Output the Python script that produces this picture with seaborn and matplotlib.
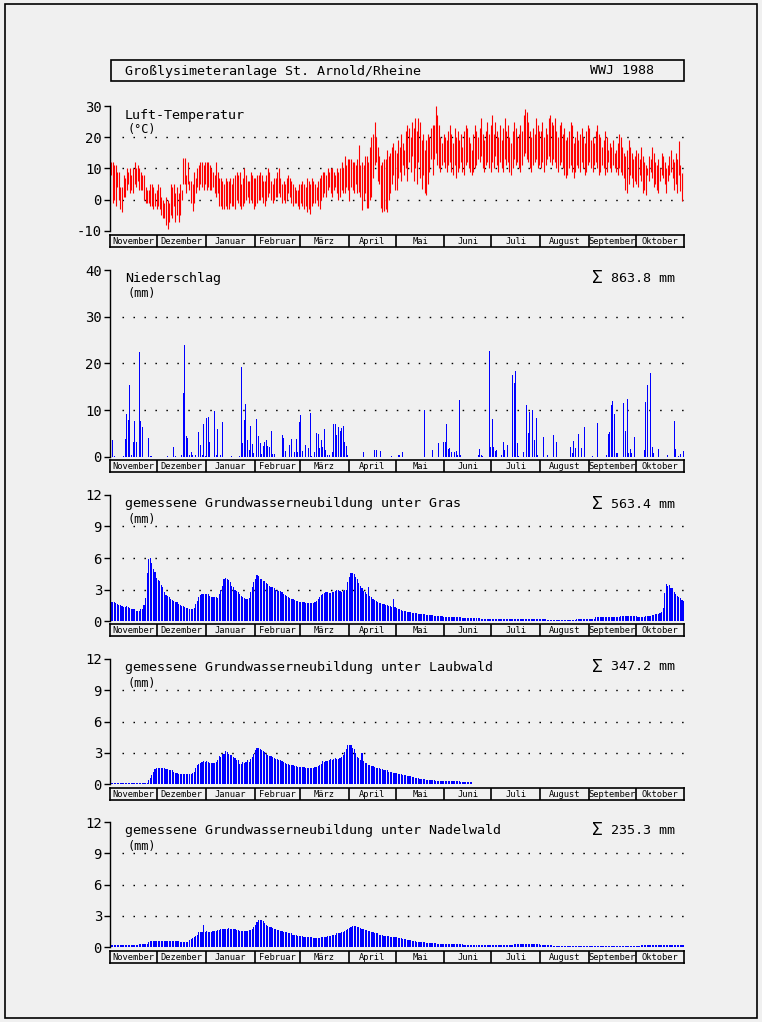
import numpy as np
import pandas as pd
import seaborn as sns
import matplotlib
matplotlib.use("Agg")
import matplotlib.pyplot as plt
from matplotlib.patches import Rectangle

# ---------------- data (hydrological year Nov 1987 - Oct 1988, daily) ----------------
months = ["November", "Dezember", "Januar", "Februar", "März", "April",
          "Mai", "Juni", "Juli", "August", "September", "Oktober"]
month_days = [30, 31, 31, 29, 31, 30, 31, 30, 31, 31, 30, 31]

# daily max / min air temperature (°C)
t_max = [
    12, 12, 11, 11, 9, 9, 4, 4, 8, 7, 10, 9, 10, 8, 10, 12, 10, 11, 10, 9, 8, 8, 4, 3, 3, 5, 5, 4, 2, 3,  # Nov
    5, 4, 1, 0, -1, 1, 0, -1, 5, 4, 5, 2, 4, 2, 5, 3, 13.5, 13.5, 8, 12, 6, 6, 5, 9, 7, 10, 11, 12, 12, 11, 12,  # Dez
    12, 12, 11, 10, 9, 8, 12, 9, 7, 7, 6, 5, 7, 6, 6, 7, 5, 7, 8, 9, 8, 9, 5, 7, 10, 8, 6, 6, 9, 8, 7,  # Jan
    7, 8, 8, 9, 8, 6, 6, 8, 10, 9, 6, 5, 7, 7, 9, 10, 7, 5, 6, 5, 7, 8, 7, 6, 5, 4, 3, 3, 5,  # Feb
    5, 6, 5, 4, 7, 6, 5, 7, 6, 5, 4, 6, 7, 8, 9, 9, 8, 10, 9, 10, 10, 9, 8, 10, 9, 10, 12, 10, 14, 11, 13,  # Mär
    13, 13, 12, 12, 11, 13, 17.5, 11, 12, 11, 14, 14, 12, 17, 20, 21, 25, 20, 17, 14, 11, 12, 13, 13, 16, 14, 15, 17, 18, 16,  # Apr
    15, 19, 17, 21, 18, 16, 22, 24, 23, 20, 25, 23, 26, 22, 26, 25, 19, 21, 16, 19, 21, 20, 23, 24, 24, 30, 27, 24, 20, 18, 21,  # Mai
    20, 19, 22, 24, 21, 18, 23, 20, 22, 19, 21, 17, 22, 24, 23, 20, 18, 16, 21, 24, 22, 20, 23, 26, 21, 19, 22, 25, 21, 24,  # Jun
    27, 21, 25, 22, 20, 24, 19, 23, 26, 22, 24, 20, 18, 22, 25, 23, 20, 21, 24, 22, 27, 29, 28, 25, 22, 20, 23, 21, 26, 24, 22,  # Jul
    22, 25, 20, 23, 21, 26, 27, 25, 24, 26, 22, 20, 24, 25, 21, 23, 19, 20, 22, 25, 24, 18, 20, 22, 19, 21, 23, 20, 18, 22, 24,  # Aug
    23, 19, 20, 18, 22, 24, 21, 20, 17, 19, 22, 20, 16, 18, 17, 19, 15, 16, 18, 21, 20, 17, 15, 14, 16, 19, 17, 15, 13, 14,  # Sep
    16, 15, 13, 17, 14, 12, 11, 10, 14, 13, 17, 15, 12, 11, 13, 10, 15, 14, 12, 10, 11, 14, 16, 13, 12, 15, 13, 18.7, 11, 8.6, 9.4,  # Okt
]
t_min = [
    8, -1, 0, -2, 4, 0, -3, -4, 1, 1, 3, 5, 2, 3, 2, 5, 4, 6, 3, 3, 3, 0, -1, -1, -1, -2, -2, -3, -2, -3,
    -2, -3, -5, -6, -6, -8, -9.5, -7, -5, -6, -2, -7, -5, -7, -5, 0, 5, 5, 2, 5, 3, -1, -3.5, -1, 2, 4, 3, 5, 4, 3, 5,
    3, 4, 3, 3, 4, 2, 1, 2, -2, -2, -3, -3, -2, -3, -3, -1, -2, -2, -3, 0, -1, -2, -3, -2, -1, 0, 1, -1, 0, -1, -3,
    -2, -1, 0, 0, 1, -1, -2, 0, 1, 2, 0, -1, 0, 1, 1, 2, 1, -1, 0, -1, 0, 2, 1, -1, -2, -1, -1, -2, -3,
    -1, -2, -3, -2, -4, -3, -4.5, -2, -1, -1, 0, -2, -3, 0, 1, 2, 1, 3, 4, 2, 1, 3, 4, 2, 0, 1, 3, 2, 2, 4, 3,
    -0.5, 4, 3, 2, 5, 2, 2.5, 1, -3.2, 0, 2, -2.5, -2.7, 0, 1, 7, 11, 12, 6, 5, -2.8, -4, -3.7, -3, -4, 0, 2, 5, 8, 3,
    3, 7, 9, 6, 11, 8, 10, 6, 12, 9, 14, 6, 10, 5, 12, 7, 3.5, 8, 2, 1.5, 5, 9, 13, 8, 13, 15, 11, 10, 9, 11, 12,
    10, 9, 11, 12, 9, 8, 11, 7, 9, 10, 12, 9, 8, 11, 12, 10, 9, 8, 9, 10, 11, 13, 12, 14, 10, 9, 11, 12, 10, 9,
    12, 10, 14, 11, 9, 12, 10, 9, 13, 11, 12, 9, 8, 10, 13, 11, 12, 10, 9, 11, 14, 15, 13, 12, 10, 9, 11, 12, 13, 10, 11,
    10, 12, 9, 11, 13, 14, 12, 11, 13, 12, 10, 9, 11, 12, 10, 8, 7, 8, 10, 11, 9, 7, 9, 11, 10, 9, 12, 10, 8, 9, 11,
    12, 10, 9, 11, 12, 10, 8, 9, 11, 10, 8, 9, 12, 10, 9, 11, 10, 9, 8, 10, 9, 8, 7, 3, 2, 5, 8, 7, 4, 6,
    5, 4, 8, 6, 2, 3, 1.5, 8, 6, 9, 7, 4, 5, 3, 2, 6, 8, 7, 5, 2, 6, 8, 9, 7, 3, 5, 2, 8, 2.8, -0.4, 3.3,
]

# precipitation: day index (0 = 1 Nov) and amount (mm) for days with rain
precip_day = [
    1, 2, 8, 9, 10, 11, 12, 13, 14, 15, 16, 18, 19, 20, 21, 24, 25, 26,
    36, 40, 41, 45, 46, 47, 48, 49, 50, 51, 52, 54, 56, 57, 58, 59, 60,
    61, 62, 63, 65, 66, 67, 68, 70, 71, 72, 77, 82, 83, 84, 85, 86, 87, 88, 89, 90, 91,
    93, 94, 95, 96, 97, 98, 99, 100, 101, 102, 103, 104, 109, 110, 111, 114, 115, 116, 117, 118, 119, 120,
    121, 122, 123, 124, 126, 127, 128, 130, 131, 132, 133, 134, 135, 136, 137, 138, 139,
    141, 142, 143, 144, 145, 146, 147, 148, 149, 150, 151,
    160, 161, 168, 169, 172, 179,
    183, 184, 186, 200, 205, 209, 211, 212,
    213, 214, 215, 216, 217, 219, 220, 221, 222, 223, 234, 235, 236, 237, 241, 242,
    243, 244, 245, 246, 248, 249, 250, 251, 253, 255, 256, 257, 258, 259, 260, 262, 263,
    265, 266, 267, 269, 270, 271, 272,
    276, 278, 282, 284, 293, 294, 295, 296, 298, 299, 300, 302,
    306, 307, 310, 316, 317, 318, 319, 320, 321, 322, 323, 327, 328, 329, 330, 331, 332, 334,
    340, 341, 342, 343, 344, 345, 346, 349, 355, 359, 360, 362, 363, 365,
]
precip_mm = [
    3.7, 0.3, 0.2, 3.9, 9.2, 8.0, 15.4, 0.5, 3.3, 7.6, 3.3, 22.4, 7.6, 6.5, 2.4, 4.0, 0.3, 0.3,
    0.3, 2.2, 0.3, 0.5, 13.7, 23.9, 4.5, 4.0, 0.4, 1.1, 0.4, 0.4, 5.4, 2.5, 0.4, 7.1, 0.3,
    8.4, 8.6, 3.3, 3.1, 9.9, 0.5, 5.9, 0.4, 7.5, 0.7, 0.2, 0.3, 19.2, 3.0, 8.0, 11.3, 3.7, 1.4, 6.7, 2.7, 0.9,
    8.2, 4.4, 3.1, 0.6, 2.3, 3.3, 3.7, 2.4, 2.2, 5.6, 0.6, 0.6, 4.6, 4.1, 1.3, 2.6, 3.9, 0.9, 1.1, 3.9, 1.1, 7.4,
    9.0, 1.2, 0.3, 2.6, 2.0, 9.5, 0.3, 1.1, 5.2, 5.0, 2.0, 3.7, 2.2, 6.0, 1.6, 0.4, 0.4,
    1.0, 7.1, 7.1, 4.6, 6.4, 5.6, 6.3, 6.7, 3.3, 2.4, 0.4,
    2.0, 1.1, 1.6, 1.4, 1.3, 0.3,
    0.4, 0.4, 1.0, 10.0, 1.4, 3.0, 1.2, 3.3,
    3.3, 7.1, 1.7, 1.9, 1.0, 1.0, 1.3, 0.4, 12.1, 0.4, 0.4, 1.8, 0.4, 0.2, 22.6, 2.1,
    8.2, 2.2, 1.2, 1.6, 14.5, 0.4, 3.2, 1.4, 2.6, 3.5, 17.6, 15.9, 18.4, 2.9, 0.3, 0.6, 1.0,
    11.1, 5.2, 9.6, 10.0, 3.6, 8.3, 0.4,
    4.2, 0.4, 4.7, 3.3, 2.1, 0.9, 3.5, 1.9, 4.9, 11.9, 2.0, 6.4,
    4.0, 0.2, 7.2, 0.5, 4.9, 5.4, 11.2, 11.9, 9.2, 0.8, 0.8, 11.6, 5.5, 12.5, 0.8, 1.7, 0.8, 4.2,
    1.6, 11.7, 15.4, 2.2, 18.0, 2.1, 0.8, 1.7, 0.4, 7.6, 1.7, 0.3, 0.6, 1.2,
]

# measured groundwater recharge (mm/day) under grass
gw_gras = [
    1.8, 1.8, 1.8, 1.7, 1.6, 1.5, 1.5, 1.4, 1.3, 1.3, 1.4, 1.3, 1.2, 1.1, 1.1, 1.1, 1.0, 1.0, 1.0, 1.1,
    1.1, 1.5, 2.2, 4.6, 5.9, 6.0, 5.5, 5.0, 4.7, 4.1,
    3.9, 3.8, 3.4, 3.2, 2.8, 2.5, 2.4, 2.3, 2.1, 2.0, 1.9, 1.8, 1.8, 1.6, 1.5, 1.4, 1.4, 1.3, 1.2, 1.2,
    1.1, 1.1, 1.1, 1.2, 1.6, 1.9, 2.3, 2.5, 2.6, 2.6, 2.6,
    2.6, 2.6, 2.4, 2.3, 2.3, 2.3, 2.3, 2.2, 2.6, 3.0, 3.3, 4.0, 4.1, 4.0, 3.9, 3.7, 3.3, 3.2, 3.0, 2.9,
    2.8, 2.6, 2.4, 2.3, 2.2, 2.1, 2.1, 2.2, 2.8, 3.2, 3.7,
    4.0, 4.4, 4.3, 4.0, 4.0, 3.8, 3.8, 3.6, 3.5, 3.3, 3.2, 3.2, 3.1, 3.0, 3.0, 2.9, 2.9, 2.8, 2.6, 2.5,
    2.4, 2.3, 2.2, 2.1, 2.1, 2.0, 1.9, 1.9, 1.8,
    1.8, 1.8, 1.8, 1.7, 1.7, 1.7, 1.7, 1.7, 1.7, 1.8, 1.9, 2.1, 2.3, 2.5, 2.6, 2.7, 2.8, 2.8, 2.7, 2.7,
    2.8, 2.8, 2.9, 3.0, 3.0, 2.9, 2.8, 2.9, 3.0, 3.0, 3.7,
    4.2, 4.6, 4.6, 4.5, 4.2, 4.0, 3.6, 3.3, 3.1, 2.9, 2.8, 2.6, 3.2, 2.4, 2.3, 2.1, 2.0, 1.9, 1.8, 1.7,
    1.7, 1.6, 1.6, 1.5, 1.5, 1.4, 1.4, 1.3, 2.1, 1.3,
    1.2, 1.15, 1.1, 1.05, 1.0, 0.95, 0.95, 0.9, 0.9, 0.85, 0.8, 0.8, 0.75, 0.75, 0.7, 0.7, 0.7, 0.65, 0.65, 0.6,
    0.6, 0.6, 0.6, 0.55, 0.5, 0.5, 0.5, 0.5, 0.45, 0.45, 0.4,
    0.4, 0.4, 0.4, 0.4, 0.4, 0.4, 0.35, 0.35, 0.35, 0.35, 0.35, 0.3, 0.3, 0.3, 0.3, 0.25, 0.25, 0.25, 0.25, 0.25,
    0.25, 0.25, 0.25, 0.2, 0.2, 0.2, 0.2, 0.2, 0.2, 0.2,
    0.2, 0.2, 0.2, 0.2, 0.2, 0.2, 0.2, 0.2, 0.2, 0.2, 0.2, 0.2, 0.2, 0.2, 0.2, 0.2, 0.2, 0.2, 0.2, 0.2,
    0.2, 0.2, 0.2, 0.2, 0.2, 0.2, 0.2, 0.2, 0.2, 0.2, 0.2,
    0.2, 0.2, 0.2, 0.2, 0.13, 0.13, 0.13, 0.13, 0.13, 0.13, 0.13, 0.13, 0.13, 0.13, 0.13, 0.13, 0.13, 0.13, 0.13, 0.13,
    0.13, 0.13, 0.13, 0.2, 0.2, 0.2, 0.2, 0.2, 0.2, 0.2, 0.2, 0.2, 0.2, 0.2, 0.2,
    0.35, 0.35, 0.35, 0.35, 0.35, 0.35, 0.35, 0.35, 0.35, 0.35, 0.35, 0.35, 0.35, 0.35, 0.35, 0.35, 0.45, 0.45, 0.45, 0.45,
    0.45, 0.45, 0.45, 0.45, 0.45, 0.45, 0.45, 0.4, 0.4, 0.4,
    0.4, 0.4, 0.45, 0.45, 0.5, 0.5, 0.55, 0.6, 0.65, 0.7, 0.7, 0.8, 0.9, 1.2, 2.7, 3.5, 3.3, 3.4, 3.1, 3.1,
    2.8, 2.6, 2.4, 2.3, 2.2, 2.0, 1.9, 1.8, 1.8, 1.7, 1.7,
]

# under deciduous forest (recharge stops mid June)
gw_laub = [
    0.1, 0.1, 0.1, 0.1, 0.1, 0.1, 0.1, 0.1, 0.1, 0.1, 0.1, 0.1, 0.1, 0.1, 0.1, 0.1, 0.1, 0.1, 0.1, 0.1,
    0.1, 0.1, 0.1, 0.1, 0.4, 0.6, 0.9, 1.2, 1.4, 1.5,
    1.5, 1.5, 1.5, 1.5, 1.5, 1.4, 1.4, 1.3, 1.3, 1.3, 1.2, 1.1, 1.1, 1.0, 1.0, 1.0, 1.0, 1.0, 1.0, 1.0,
    1.0, 1.0, 1.1, 1.2, 1.5, 1.8, 1.9, 2.0, 2.1, 2.2, 2.1,
    2.2, 2.1, 2.0, 2.0, 2.0, 2.0, 2.1, 2.3, 2.7, 2.6, 2.9, 2.9, 3.2, 3.1, 2.9, 2.8, 2.8, 2.6, 2.5, 2.3,
    2.3, 1.9, 1.9, 2.1, 2.0, 2.1, 2.3, 2.1, 2.4, 2.6, 2.9,
    3.3, 3.5, 3.5, 3.4, 3.3, 3.2, 3.1, 2.9, 2.8, 2.7, 2.7, 2.6, 2.5, 2.4, 2.4, 2.3, 2.3, 2.2, 2.1, 2.0,
    1.9, 1.9, 1.8, 1.8, 1.8, 1.7, 1.7, 1.6, 1.6,
    1.6, 1.6, 1.6, 1.5, 1.5, 1.5, 1.5, 1.5, 1.5, 1.6, 1.6, 1.7, 1.8, 1.9, 2.2, 2.1, 2.2, 2.2, 2.3, 2.4,
    2.3, 2.4, 2.5, 2.4, 2.4, 2.5, 2.6, 2.8, 3.1, 3.4, 3.7,
    3.7, 3.7, 3.5, 3.4, 3.0, 2.6, 2.5, 2.3, 3.0, 2.2, 2.0, 2.0, 1.8, 1.8, 1.7, 1.7, 1.6, 1.5, 1.5, 1.5,
    1.4, 1.4, 1.3, 1.3, 1.3, 1.2, 1.2, 1.2, 1.1, 1.1,
    1.1, 1.0, 1.0, 1.0, 0.9, 0.9, 0.9, 0.8, 0.8, 0.8, 0.7, 0.7, 0.6, 0.6, 0.6, 0.5, 0.5, 0.5, 0.5, 0.4,
    0.4, 0.4, 0.4, 0.4, 0.4, 0.3, 0.3, 0.3, 0.3, 0.3, 0.3,
    0.3, 0.3, 0.3, 0.25, 0.25, 0.25, 0.25, 0.25, 0.25, 0.25, 0.2, 0.2, 0.2, 0.2, 0.2, 0.2, 0.2, 0.2,
]

# under coniferous forest
gw_nadel = [
    0.15, 0.15, 0.15, 0.15, 0.15, 0.15, 0.15, 0.15, 0.15, 0.15, 0.15, 0.15, 0.15, 0.15, 0.15, 0.15, 0.15, 0.15, 0.25, 0.25,
    0.25, 0.25, 0.25, 0.25, 0.45, 0.55, 0.6, 0.6, 0.6, 0.6,
    0.6, 0.6, 0.6, 0.6, 0.6, 0.6, 0.6, 0.6, 0.6, 0.6, 0.6, 0.6, 0.6, 0.6, 0.5, 0.5, 0.5, 0.5, 0.5, 0.5,
    0.7, 0.8, 0.9, 1.0, 1.1, 1.2, 1.4, 1.4, 1.4, 2.1, 1.4,
    1.5, 1.4, 1.4, 1.4, 1.5, 1.5, 1.5, 1.6, 1.6, 1.7, 1.7, 1.7, 1.7, 1.7, 1.8, 1.7, 1.7, 1.7, 1.7, 1.6,
    1.6, 1.5, 1.5, 1.5, 1.5, 1.5, 1.5, 1.6, 1.6, 1.7, 1.9,
    2.1, 2.4, 2.6, 2.6, 2.6, 2.5, 2.3, 2.1, 2.0, 1.9, 1.9, 1.8, 1.7, 1.7, 1.6, 1.6, 1.5, 1.5, 1.4, 1.4,
    1.4, 1.3, 1.3, 1.3, 1.2, 1.2, 1.2, 1.1, 1.1,
    1.1, 1.1, 1.0, 1.0, 1.0, 1.0, 0.95, 0.95, 0.9, 0.9, 0.9, 0.9, 0.9, 0.95, 1.0, 1.0, 1.0, 1.1, 1.1, 1.1,
    1.2, 1.2, 1.2, 1.3, 1.3, 1.3, 1.4, 1.4, 1.5, 1.6, 1.7,
    1.8, 1.9, 2.0, 2.0, 2.0, 1.9, 1.9, 1.8, 1.7, 1.7, 1.6, 1.6, 1.5, 1.5, 1.4, 1.4, 1.3, 1.3, 1.3, 1.2,
    1.2, 1.2, 1.1, 1.1, 1.1, 1.1, 1.0, 1.0, 1.0, 1.0,
    0.95, 0.9, 0.9, 0.85, 0.8, 0.8, 0.75, 0.7, 0.7, 0.65, 0.6, 0.6, 0.55, 0.5, 0.5, 0.5, 0.45, 0.45, 0.45, 0.4,
    0.4, 0.4, 0.35, 0.35, 0.35, 0.35, 0.3, 0.3, 0.3, 0.3, 0.3,
    0.3, 0.3, 0.3, 0.3, 0.3, 0.3, 0.3, 0.3, 0.3, 0.3, 0.3, 0.3, 0.2, 0.2, 0.2, 0.2, 0.2, 0.2, 0.2, 0.2,
    0.2, 0.2, 0.2, 0.2, 0.2, 0.2, 0.2, 0.2, 0.2, 0.2,
    0.2, 0.2, 0.2, 0.2, 0.2, 0.2, 0.2, 0.2, 0.2, 0.2, 0.2, 0.2, 0.2, 0.2, 0.25, 0.25, 0.25, 0.25, 0.25, 0.25,
    0.25, 0.25, 0.25, 0.25, 0.25, 0.25, 0.25, 0.25, 0.25, 0.25, 0.25,
    0.15, 0.15, 0.15, 0.15, 0.15, 0.15, 0.15, 0.15, 0.1, 0.1, 0.1, 0.1, 0.1, 0.1, 0.1, 0.1, 0.1, 0.1, 0.1, 0.1,
    0.1, 0.1, 0.1, 0.1, 0.1, 0.1, 0.1, 0.1, 0.1, 0.1, 0.1,
    0.1, 0.1, 0.1, 0.1, 0.1, 0.1, 0.1, 0.1, 0.1, 0.1, 0.1, 0.1, 0.1, 0.1, 0.1, 0.1, 0.1, 0.1, 0.1, 0.1,
    0.1, 0.1, 0.1, 0.1, 0.1, 0.1, 0.1, 0.1, 0.1, 0.1,
    0.1, 0.1, 0.1, 0.2, 0.2, 0.2, 0.2, 0.2, 0.2, 0.2, 0.2, 0.2, 0.2, 0.2, 0.2, 0.2, 0.2, 0.2, 0.2, 0.2,
    0.2, 0.2, 0.15, 0.15, 0.15, 0.15, 0.15, 0.15, 0.15, 0.15, 0.15,
]

sums = ["863.8 mm", "563.4 mm", "347.2 mm", "235.3 mm"]

# ---------------- style ----------------
BG = "#f0f0f0"
W, H = 762, 1022
sns.set_theme(style="white", rc={"figure.facecolor": BG, "axes.facecolor": BG,
                                 "savefig.facecolor": BG})
plt.rcParams["font.family"] = ["DejaVu Sans Mono", "DejaVu Sans"]
plt.rcParams["axes.unicode_minus"] = False
plt.rcParams["text.color"] = "black"

fig = plt.figure(figsize=(W / 100, H / 100), dpi=100)
X0, X1 = 110.3, 684.3   # pixel span of the 366 days


def fx(px):
    return px / W


def fy(py):
    return 1 - py / H


def add_px_axes(top, bottom):
    return fig.add_axes([fx(X0), fy(bottom), (X1 - X0) / W, (bottom - top) / H])


def style_panel(ax, ylim, ticks, grid):
    ax.set_xlim(0, 366)
    ax.set_ylim(*ylim)
    for s in ["top", "right", "bottom"]:
        ax.spines[s].set_visible(False)
    ax.spines["left"].set_color("black")
    ax.spines["left"].set_linewidth(1.0)
    ax.set_xticks([])
    ax.set_yticks(ticks)
    ax.set_yticklabels([str(t) for t in ticks])
    ax.tick_params(axis="y", direction="out", length=4, width=1, colors="black",
                   labelsize=10, pad=2, left=True)
    ax.set_xlabel("")
    ax.set_ylabel("")
    ax.grid(False)
    for g in grid:
        ax.plot([7.5, 366], [g, g], color="black", lw=1.0,
                linestyle=(0, (1.1, 6.8)), zorder=0)


def month_bar(top, bottom):
    mx = add_px_axes(top, bottom)
    mx.set_xlim(0, 366)
    mx.set_ylim(0, 1)
    mx.set_xticks([])
    mx.set_yticks([])
    for s in mx.spines.values():
        s.set_visible(True)
        s.set_color("black")
        s.set_linewidth(1.2)
    edges = np.cumsum([0] + month_days)
    mx.vlines(edges[1:-1], 0, 1, color="black", lw=1.2)
    for i, m in enumerate(months):
        mx.text((edges[i] + edges[i + 1]) / 2, 0.45, m, ha="center", va="center",
                fontsize=6.3)


def bars(ax, days, values, width):
    df = pd.DataFrame({"day": np.asarray(days, dtype=float) + 0.5, "mm": values})
    sns.barplot(data=df, x="day", y="mm", native_scale=True, width=width,
                color="#0000ff", saturation=1, linewidth=0, errorbar=None, ax=ax)


# ---------------- panel 1: air temperature ----------------
ax1 = add_px_axes(106, 231)
days_t = np.arange(len(t_max)) + 0.5
ax1.vlines(days_t, t_min, t_max, color="#ff0000", lw=0.8)
style_panel(ax1, (-10, 30), [-10, 0, 10, 20, 30], [0, 10, 20])
month_bar(235, 247)

# ---------------- panel 2: precipitation ----------------
ax2 = add_px_axes(270, 457)
bars(ax2, precip_day, precip_mm, 0.6)
style_panel(ax2, (0, 40), [0, 10, 20, 30, 40], [10, 20, 30])
month_bar(460, 472)

# ---------------- panels 3-5: groundwater recharge ----------------
gw_panels = [(gw_gras, 495, 621, 624), (gw_laub, 659, 784, 788), (gw_nadel, 822, 947, 951)]
for series, top, bottom, mtop in gw_panels:
    ax = add_px_axes(top, bottom)
    bars(ax, np.arange(len(series)), series, 0.72)
    style_panel(ax, (0, 12), [0, 3, 6, 9, 12], [3, 6, 9])
    month_bar(mtop, mtop + 12)

# ---------------- texts ----------------
fig.text(fx(125), fy(71), "Großlysimeteranlage St. Arnold/Rheine", ha="left",
         va="center", fontsize=9.6)
fig.text(fx(654), fy(71), "WWJ 1988", ha="right", va="center", fontsize=9.6)

labels = [
    ("Luft-Temperatur", "(°C)", 115, 130),
    ("Niederschlag", "(mm)", 278, 293),
    ("gemessene Grundwasserneubildung unter Gras", "(mm)", 504, 519),
    ("gemessene Grundwasserneubildung unter Laubwald", "(mm)", 667, 683),
    ("gemessene Grundwasserneubildung unter Nadelwald", "(mm)", 830, 846),
]
for title, unit, ty, uy in labels:
    fig.text(fx(125), fy(ty), title, ha="left", va="center", fontsize=9.6)
    fig.text(fx(127), fy(uy), unit, ha="left", va="center", fontsize=8.6)

for s, sy in zip(sums, [278, 504, 667, 830]):
    fig.text(fx(597), fy(sy), "Σ", ha="center", va="center", fontsize=13)
    fig.text(fx(675), fy(sy), s, ha="right", va="center", fontsize=9.6)

# title box and outer frame
fig.add_artist(Rectangle((fx(111), fy(81)), (684 - 111) / W, 21 / H, fill=False,
                         edgecolor="black", lw=1.2, transform=fig.transFigure))
fig.add_artist(Rectangle((fx(4.5), fy(1017.5)), 752.5 / W, 1013 / H, fill=False,
                         edgecolor="black", lw=1.2, transform=fig.transFigure))

fig.savefig("out.png", dpi=100, facecolor=BG)
